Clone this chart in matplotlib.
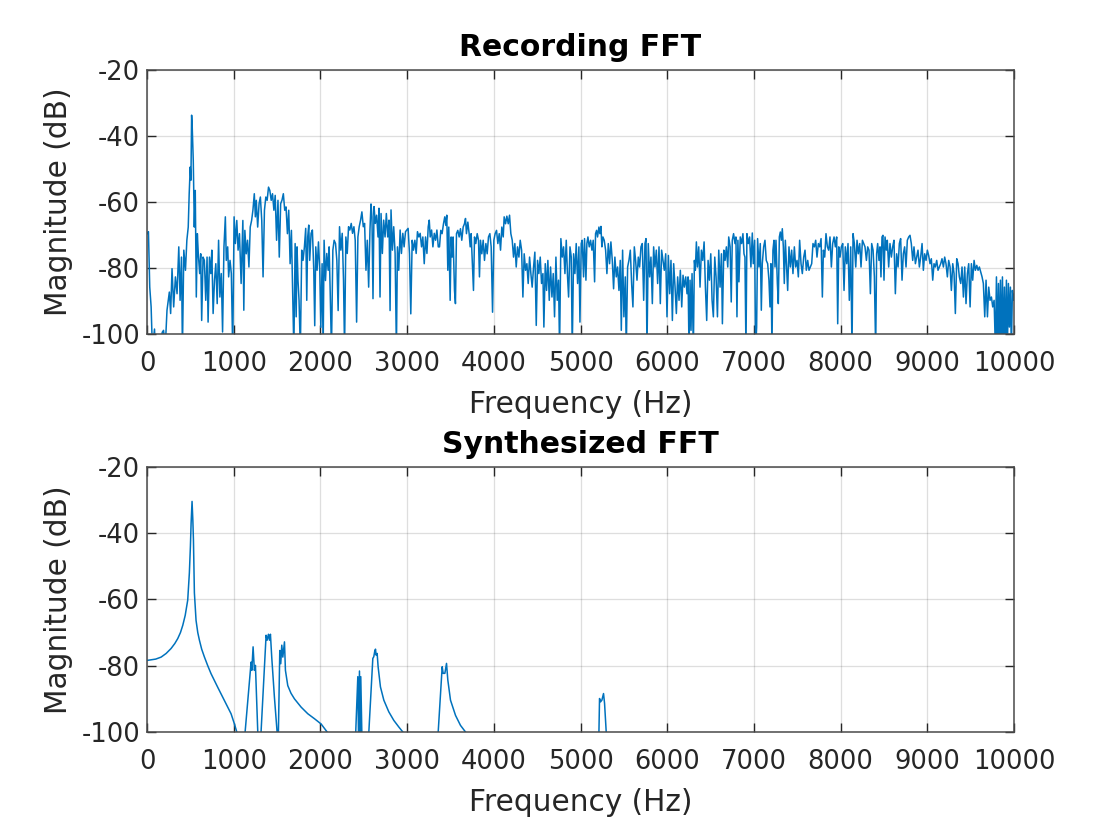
import numpy as np
import matplotlib
matplotlib.use("Agg")
import matplotlib.pyplot as plt

# values (Hz, dB); -105 and lower = dips past the axis floor
rec_freq = [
    0, 16, 31, 47, 62, 86, 100, 150, 175, 190, 210, 230, 257, 272, 288, 307, 327, 346, 366, 381,
    397, 408, 424, 443, 459, 475, 486, 498, 506, 514, 521, 533, 545, 556, 568, 580, 591, 607, 619, 630,
    646, 661, 677, 692, 704, 720, 735, 747, 762, 778, 793, 809, 825, 840, 856, 871, 887, 903, 914, 930,
    941, 957, 972, 988, 1004, 1019, 1035, 1050, 1066, 1085, 1105, 1116, 1128, 1144, 1159, 1175, 1190, 1206, 1221, 1237,
    1249, 1260, 1276, 1292, 1307, 1323, 1338, 1354, 1370, 1385, 1401, 1416, 1432, 1447, 1463, 1478, 1494, 1510, 1525, 1541,
    1556, 1572, 1588, 1603, 1619, 1634, 1650, 1665, 1681, 1693, 1708, 1720,
    1730, 1741, 1753, 1768, 1784, 1799, 1815, 1830, 1842, 1853, 1865, 1876, 1892, 1907, 1923, 1934, 1946, 1961, 1977, 1992,
    2004, 2019, 2031, 2042, 2058, 2073, 2089, 2100, 2112, 2127, 2143, 2158, 2174, 2189, 2204, 2220, 2235, 2251, 2266, 2278,
    2293, 2309, 2324, 2339, 2355, 2370, 2386, 2401, 2417, 2432, 2447, 2463, 2478, 2494, 2509, 2525, 2540, 2556, 2571, 2583,
    2594, 2606, 2618, 2633, 2648, 2664, 2675, 2687, 2699, 2714, 2729, 2745, 2760, 2776, 2791, 2803, 2814, 2830, 2845, 2861,
    2876, 2888, 2903, 2919, 2934, 2950, 2965, 2981, 2996, 3011, 3027, 3042, 3058, 3073, 3089, 3104, 3119, 3135, 3150, 3166,
    3181, 3197, 3212, 3228, 3243, 3255, 3266, 3282, 3297, 3313, 3328, 3343, 3359,
    3373, 3388, 3403, 3419, 3434, 3446, 3457, 3469, 3480, 3496, 3507, 3519, 3530, 3546, 3557, 3569, 3584, 3600, 3615, 3630,
    3646, 3661, 3673, 3684, 3700, 3715, 3727, 3738, 3754, 3765, 3777, 3792, 3808, 3823, 3834, 3846, 3861, 3877, 3892, 3908,
    3923, 3938, 3954, 3969, 3985, 4000, 4015, 4031, 4046, 4062, 4077, 4092, 4108, 4119, 4135, 4150, 4166, 4181, 4196, 4212,
    4227, 4242, 4258, 4273, 4289, 4304, 4320, 4335, 4350, 4366, 4381, 4396, 4412, 4427, 4442, 4458, 4473, 4489, 4504, 4519,
    4535, 4550, 4566, 4577, 4593, 4608, 4623, 4639, 4654, 4670, 4685, 4700, 4716, 4731, 4746, 4758, 4773, 4789, 4804, 4820,
    4835, 4850, 4862, 4878, 4893, 4904, 4920, 4935, 4950, 4966, 4981, 4993, 5008,
    5019, 5035, 5046, 5062, 5073, 5085, 5100, 5116, 5131, 5146, 5162, 5173, 5185, 5196, 5212, 5223, 5235, 5246, 5258, 5273,
    5289, 5304, 5320, 5335, 5350, 5366, 5381, 5396, 5412, 5427, 5443, 5458, 5470, 5485, 5500, 5516, 5527, 5543, 5558, 5574,
    5589, 5604, 5620, 5635, 5651, 5666, 5681, 5697, 5712, 5728, 5743, 5755, 5766, 5781, 5797, 5812, 5828, 5843, 5858, 5874,
    5889, 5905, 5920, 5935, 5951, 5966, 5982, 5997, 6013, 6028, 6043, 6059, 6074, 6090, 6105, 6120, 6136, 6151, 6167, 6182,
    6197, 6213, 6228, 6240, 6251, 6263, 6274, 6286, 6301, 6313, 6324, 6336, 6348, 6363, 6378, 6394, 6409, 6425, 6440, 6455,
    6471, 6486, 6502, 6517, 6532, 6548, 6563, 6579, 6594, 6609, 6625, 6636, 6652, 6667, 6682, 6698, 6709, 6725,
    6738, 6750, 6765, 6781, 6792, 6804, 6815, 6827, 6842, 6858, 6873, 6885, 6896, 6908, 6919, 6935, 6950, 6965, 6981, 6992,
    7008, 7019, 7031, 7042, 7058, 7073, 7085, 7096, 7112, 7127, 7142, 7158, 7173, 7185, 7196, 7208, 7219, 7231, 7243, 7254,
    7270, 7281, 7293, 7304, 7316, 7327, 7339, 7350, 7362, 7373, 7389, 7404, 7420, 7435, 7450, 7466, 7481, 7497, 7512, 7527,
    7543, 7558, 7574, 7589, 7604, 7620, 7635, 7650, 7666, 7681, 7697, 7712, 7727, 7743, 7758, 7774, 7789, 7801, 7816, 7831,
    7847, 7862, 7877, 7893, 7908, 7924, 7939, 7954, 7966, 7978, 7993, 8008, 8024, 8039, 8054, 8070, 8085, 8100, 8116, 8131,
    8143, 8158, 8174, 8189, 8204, 8220, 8235, 8251, 8266, 8281, 8297, 8312, 8327, 8343, 8358, 8374, 8389,
    8404, 8415, 8427, 8442, 8454, 8465, 8477, 8488, 8500, 8512, 8527, 8538, 8554, 8569, 8585, 8600, 8615, 8631, 8646, 8662,
    8677, 8692, 8708, 8723, 8738, 8754, 8769, 8785, 8800, 8815, 8831, 8846, 8862, 8877, 8892, 8908, 8923, 8939, 8954, 8969,
    8985, 9000, 9015, 9031, 9046, 9062, 9077, 9092, 9108, 9123, 9139, 9154, 9169, 9185, 9200, 9215, 9231, 9246, 9262, 9277,
    9293, 9308, 9323, 9339, 9354, 9369, 9385, 9400, 9416, 9431, 9446, 9462, 9477, 9493, 9508, 9523, 9539, 9554, 9570, 9585,
    9600, 9616, 9631, 9646, 9662, 9677, 9693, 9708, 9723, 9739, 9754, 9770, 9785, 9797, 9808, 9820, 9831, 9843, 9854, 9866,
    9877, 9889, 9900, 9912, 9923, 9935, 9946, 9958, 9969, 9981, 9993, 10000,
]
rec_db = [
    -69.6, -69.0, -85.8, -91.8, -105, -98.5, -108, -106, -99.5, -98.9, -104, -92.8, -87.3, -93.8, -80.2, -91.8, -82.7, -87.8, -73.6, -89.8,
    -76.7, -105, -74.6, -80.7, -71.6, -67.6, -57.5, -49.4, -53.4, -33.7, -37.3, -47.4, -67.6, -56.5, -88.8, -69.6, -75.7, -81.7, -75.7, -95.9,
    -76.7, -77.7, -89.8, -76.7, -96.4, -76.7, -81.7, -74.6, -93.8, -83.7, -78.7, -90.8, -71.6, -88.8, -81.7, -99.4, -73.6, -64.5, -77.7, -73.6,
    -82.7, -77.7, -81.7, -105, -64.5, -72.6, -65.6, -74.6, -69.6, -84.7, -65.6, -92.8, -68.6, -75.7, -71.6, -79.7, -67.6, -65.6, -62.5, -57.5,
    -64.5, -59.5, -67.6, -60.5, -58.5, -65.6, -82.7, -62.5, -58.5, -59.5, -55.5, -56.5, -59.5, -57.5, -62.5, -58.0, -71.6, -59.5, -76.7, -60.5,
    -59.5, -57.5, -62.5, -61.5, -69.6, -62.5, -78.7, -68.6, -89.8, -105, -72.6, -94.8,
    -73.6, -83.8, -89.8, -105, -74.6, -77.7, -73.6, -68.0, -89.8, -70.6, -67.0, -77.7, -69.5, -68.5, -80.7, -97.5, -73.6, -80.7, -72.1, -80.7,
    -98.0, -78.7, -105, -71.6, -83.8, -75.6, -80.7, -73.6, -86.8, -105, -74.6, -71.6, -72.6, -77.7, -92.9, -67.5, -74.6, -69.5, -83.8, -105,
    -70.6, -75.6, -67.5, -68.5, -66.5, -69.5, -67.5, -71.6, -96.4, -70.6, -67.5, -65.5, -63.0, -67.5, -66.5, -80.7, -71.6, -85.8, -68.5, -60.6,
    -64.5, -89.3, -61.4, -66.5, -64.0, -70.6, -61.9, -88.8, -63.5, -75.6, -65.5, -70.6, -63.5, -70.6, -65.5, -92.9, -62.4, -74.6, -67.5, -75.6,
    -105, -73.6, -80.7, -68.5, -75.6, -69.5, -73.6, -69.0, -68.5, -68.0, -75.6, -93.9, -71.6, -74.6, -71.6, -75.6, -69.0, -70.6, -69.5, -73.6,
    -70.6, -78.7, -70.6, -75.6, -67.5, -65.5, -70.6, -68.5, -73.6, -69.5, -71.6, -68.5, -73.6,
    -73.6, -68.6, -69.6, -66.6, -64.5, -67.1, -64.0, -80.7, -67.6, -89.8, -70.6, -76.7, -70.6, -86.8, -90.8, -69.6, -68.6, -70.6, -68.1, -71.6,
    -67.6, -66.6, -65.0, -69.6, -66.1, -69.6, -73.6, -69.6, -79.7, -86.8, -70.6, -72.6, -69.6, -71.6, -82.7, -71.6, -75.7, -71.6, -77.7, -72.6,
    -75.7, -70.6, -69.6, -73.6, -93.4, -71.6, -69.6, -68.6, -72.6, -69.6, -74.6, -67.6, -70.6, -64.5, -66.6, -64.3, -66.6, -64.0, -69.6, -71.6,
    -76.7, -72.6, -79.7, -73.6, -76.7, -71.6, -74.6, -88.8, -75.7, -80.7, -78.7, -84.7, -76.7, -81.7, -85.8, -79.7, -75.2, -97.4, -77.7, -81.7,
    -76.7, -84.7, -81.7, -97.9, -78.7, -86.8, -77.7, -89.8, -79.7, -88.8, -81.7, -94.8, -76.7, -89.8, -83.7, -105, -71.1, -76.7, -73.6, -81.7,
    -71.6, -82.7, -88.8, -73.6, -76.7, -105, -75.7, -81.7, -72.6, -84.7, -73.6, -96.4, -72.6,
    -71.6, -82.7, -71.1, -83.7, -72.6, -70.6, -73.6, -71.6, -74.6, -71.6, -84.2, -69.6, -68.6, -70.6, -67.6, -69.6, -67.4, -73.6, -70.6, -71.6,
    -74.6, -81.7, -72.6, -78.7, -72.1, -77.7, -86.3, -76.7, -82.7, -79.7, -86.8, -77.7, -98.9, -74.6, -94.8, -82.7, -105, -79.7, -77.7, -74.6,
    -84.7, -91.8, -73.6, -77.7, -83.7, -76.7, -79.7, -73.6, -72.6, -89.8, -72.6, -71.1, -105, -72.6, -82.7, -76.7, -90.8, -73.6, -79.7, -74.6,
    -84.7, -73.6, -90.8, -74.6, -77.7, -80.7, -75.7, -94.8, -76.2, -87.8, -77.7, -95.9, -78.7, -85.8, -93.8, -82.7, -89.8, -80.7, -91.8, -82.2,
    -85.8, -82.7, -87.8, -82.7, -105, -83.7, -98.9, -81.7, -105, -77.7, -80.7, -72.1, -79.7, -73.6, -85.8, -74.6, -77.7, -72.1, -85.8, -95.9,
    -77.7, -83.7, -75.7, -89.8, -94.8, -76.7, -82.7, -94.8, -74.6, -85.8, -75.7, -96.9, -74.6, -77.7, -73.6, -79.7, -70.6, -73.6,
    -90.3, -71.6, -69.6, -72.6, -70.6, -94.8, -71.6, -84.2, -70.6, -72.6, -69.6, -75.7, -76.7, -105, -69.6, -72.6, -70.6, -79.7, -69.4, -78.7,
    -71.6, -105, -97.9, -71.1, -79.7, -72.6, -92.8, -78.7, -73.6, -71.6, -77.7, -78.7, -83.7, -91.8, -78.7, -105, -74.6, -71.6, -79.7, -71.6,
    -84.7, -90.8, -70.6, -69.1, -71.6, -68.1, -73.6, -84.7, -71.6, -77.7, -86.8, -73.6, -79.7, -74.6, -81.7, -73.6, -79.7, -77.7, -82.7, -71.6,
    -78.7, -81.7, -76.7, -74.6, -80.7, -77.7, -80.7, -79.7, -78.7, -72.6, -73.6, -71.6, -76.7, -72.6, -73.6, -71.1, -88.8, -74.6, -76.7, -69.6,
    -73.6, -74.6, -70.6, -79.7, -72.6, -70.6, -73.6, -70.6, -96.9, -73.6, -76.7, -73.6, -72.6, -86.8, -73.6, -78.7, -72.6, -89.8, -73.6, -105,
    -69.6, -72.6, -79.7, -71.6, -75.7, -72.6, -79.7, -71.6, -72.6, -73.6, -77.7, -73.6, -74.6, -87.8, -72.6, -74.6, -82.7,
    -105, -75.7, -72.6, -77.7, -73.6, -82.7, -70.6, -70.1, -83.7, -70.6, -74.6, -71.6, -79.7, -72.6, -76.7, -73.6, -71.6, -87.8, -75.7, -79.7,
    -72.6, -71.1, -83.7, -75.7, -73.6, -79.7, -71.6, -70.6, -70.1, -72.6, -77.7, -73.6, -78.7, -76.7, -74.6, -79.7, -76.7, -72.6, -80.7, -75.7,
    -77.7, -74.6, -76.2, -78.7, -77.2, -83.7, -78.7, -79.7, -77.7, -80.7, -79.7, -78.7, -77.2, -79.7, -76.7, -78.7, -82.7, -77.7, -79.7, -86.8,
    -78.7, -81.7, -93.8, -77.2, -78.7, -82.7, -84.7, -79.7, -88.8, -79.7, -90.8, -81.7, -78.7, -91.8, -78.7, -83.7, -77.7, -80.7, -79.2, -80.7,
    -79.7, -81.2, -82.7, -84.7, -94.8, -83.7, -94.8, -85.8, -89.8, -88.8, -91.8, -89.8, -105, -82.7, -105, -84.7, -105, -83.7, -105, -82.7,
    -105, -85.8, -105, -83.7, -105, -84.7, -97.9, -85.8, -105, -86.8, -89.8, -88.0,
]

syn_freq = [
    0, 100, 162, 220, 277, 320, 354, 385, 412, 440, 469, 488, 500, 508, 519, 528, 535, 546, 565, 585,
    604, 630, 662, 700, 738, 815, 892, 969, 1008, 1035,
    1080, 1131, 1200, 1208, 1223, 1238, 1250, 1277, 1285, 1373, 1385, 1400, 1412, 1423, 1438, 1469, 1500, 1505,
    1515, 1531, 1542, 1554, 1566, 1585, 1596, 1623, 1660, 1700, 1777, 1854, 1931, 2008, 2077, 2240,
    2404, 2431, 2440, 2450, 2458, 2465, 2480, 2520, 2558, 2604, 2615, 2627, 2635, 2642, 2654, 2665, 2692,
    2731, 2788, 2846, 2904, 2950, 3150, 3358, 3404, 3415, 3435, 3454, 3469, 3500, 3558, 3615, 3673,
    4400, 5212, 5219, 5231, 5246, 5265, 5277, 5296, 5400, 10000,
]
syn_db = [
    -78.4, -78.0, -77.4, -76.3, -74.8, -73.3, -71.8, -70.0, -67.8, -64.8, -60.2, -52.0, -44.0, -37.0, -30.4, -36.0, -42.0, -58.0, -66.3, -70.0,
    -72.3, -75.0, -77.4, -80.0, -82.4, -86.5, -90.5, -94.5, -97.6, -100,
    -125, -100, -78.9, -81.4, -74.3, -81.4, -79.9, -100, -115, -70.8, -72.3, -70.5, -72.3, -70.5, -77.4, -89.5, -100, -108,
    -100, -75.4, -79.4, -73.8, -77.4, -72.8, -81.4, -86.0, -88.3, -90.0, -92.5, -94.5, -96.0, -97.6, -100, -130,
    -102, -83.3, -104, -81.6, -104, -83.3, -104, -115, -100, -77.8, -77.3, -75.5, -75.0, -76.8, -76.3, -80.3, -86.4,
    -90.4, -93.9, -96.5, -98.5, -100, -130, -100, -80.3, -82.3, -82.3, -79.3, -84.3, -90.4, -95.0, -98.0, -100,
    -140, -100, -89.9, -90.9, -90.4, -88.4, -91.4, -100, -130, -140,
]

x_ticks = [0, 1000, 2000, 3000, 4000, 5000, 6000, 7000, 8000, 9000, 10000]
y_ticks = [-100, -80, -60, -40, -20]
titles = ["Recording FFT", "Synthesized FFT"]

plt.rcParams['font.family'] = 'DejaVu Sans'
plt.rcParams['axes.unicode_minus'] = False

line_col = '#0072BD'
axis_col = '#262626'

fig = plt.figure(figsize=(11.2, 8.4), dpi=100)
ax1 = fig.add_axes([0.1313, 0.6024, 0.7741, 0.3143])
ax2 = fig.add_axes([0.1313, 0.1286, 0.7741, 0.3155])

for ax, f, m, t in [(ax1, rec_freq, rec_db, titles[0]), (ax2, syn_freq, syn_db, titles[1])]:
    ax.plot(f, m, color=line_col, lw=1.1)
    ax.set_xlim(0, 10000)
    ax.set_ylim(-100, -20)
    ax.set_xticks(x_ticks)
    ax.set_xticklabels([str(v) for v in x_ticks])
    ax.set_yticks(y_ticks)
    ax.set_yticklabels([str(v) for v in y_ticks])
    ax.grid(True, color=axis_col, alpha=0.15, lw=0.9)
    ax.tick_params(direction='in', length=6.5, width=1.0, colors=axis_col,
                   labelsize=18.5, top=True, right=True)
    ax.tick_params(axis='x', pad=12)
    ax.tick_params(axis='y', pad=5)
    for s in ax.spines.values():
        s.set_color('#4a4a4a')
        s.set_linewidth(1.1)
    ax.set_xlabel('Frequency (Hz)', fontsize=21.3, color=axis_col, labelpad=9.5)
    ax.set_ylabel('Magnitude (dB)', fontsize=21.3, color=axis_col, labelpad=6)
    ax.set_title(t, fontsize=21.5, fontweight='bold', color='black', pad=10)

fig.savefig('out.png', dpi=100)
